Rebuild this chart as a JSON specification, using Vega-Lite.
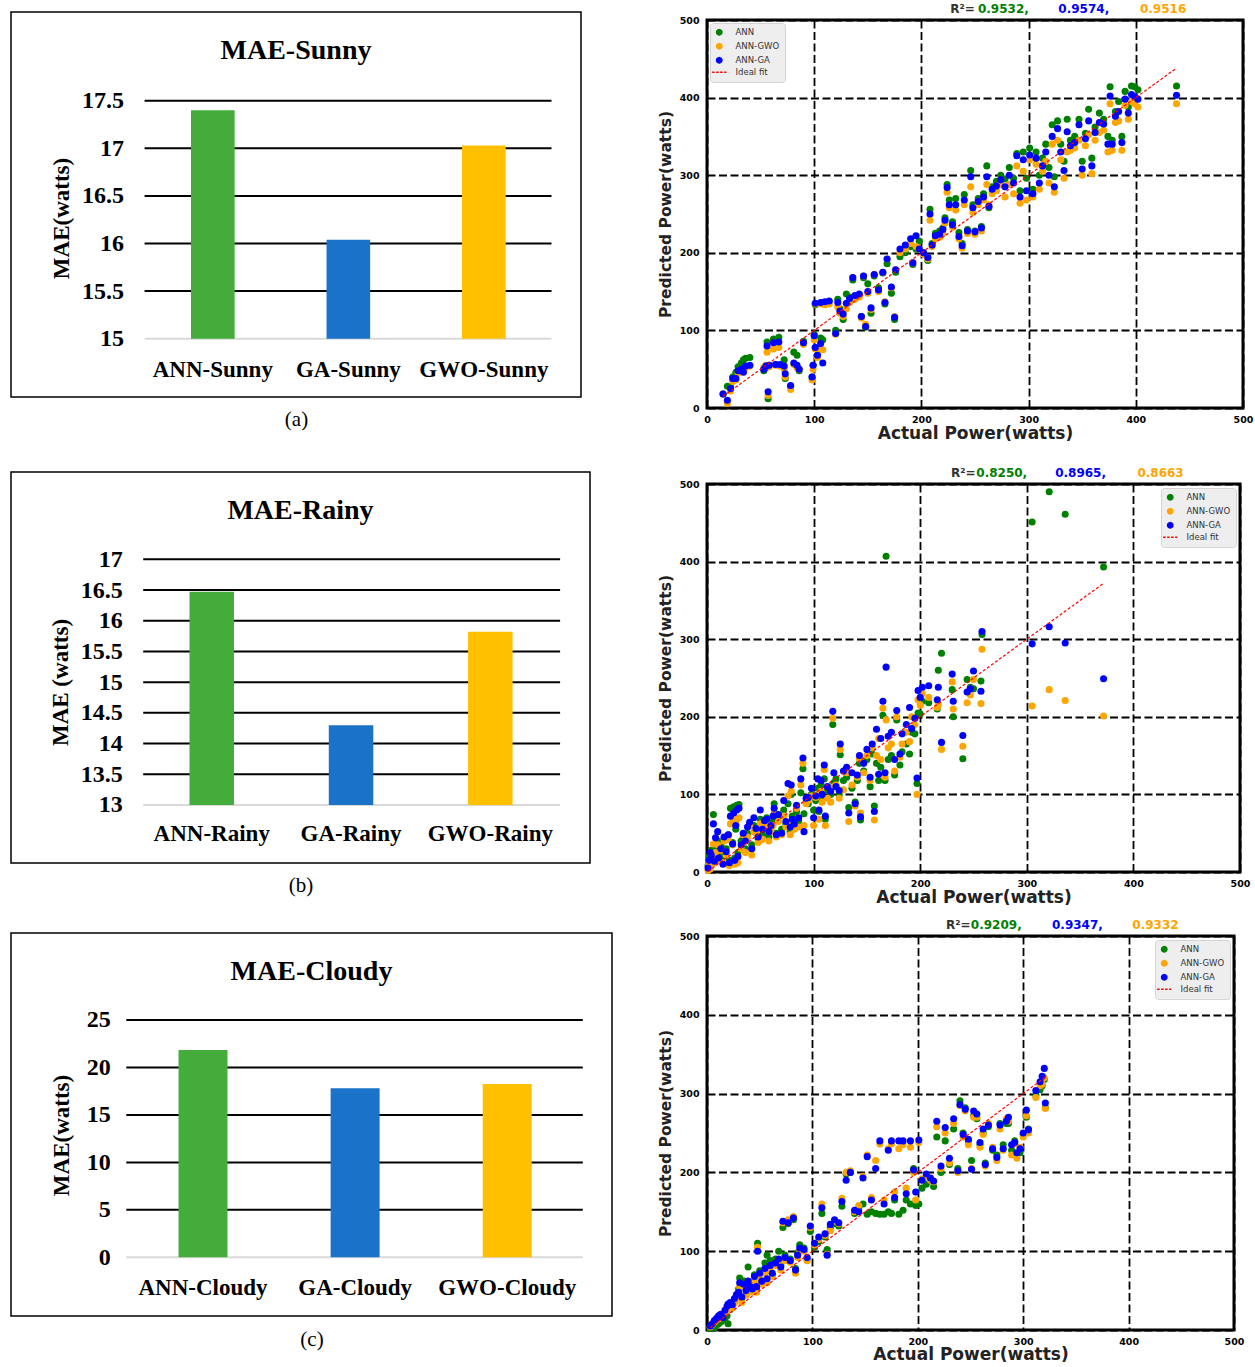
{
"$schema": "https://vega.github.io/schema/vega-lite/v6.json",
"background": "white",
"padding": {"left": 10, "top": 0, "right": 0, "bottom": 0},
"config": {"view": {"stroke": null}},
"datasets": {
"sunny": [
{"a":15,"n":18,"w":18,"g":18},{"a":19,"n":28,"w":6,"g":10},{"a":22,"n":27,"w":22,"g":25},{"a":24,"n":40,"w":34,"g":38},{"a":27,"n":46,"w":36,"g":38},{"a":29,"n":53,"w":45,"g":48},{"a":32,"n":58,"w":48,"g":50},{"a":34,"n":62,"w":50,"g":46},{"a":36,"n":64,"w":52,"g":54},{"a":40,"n":65,"w":54,"g":55},
{"a":53,"n":48,"w":52,"g":50},{"a":55,"n":52,"w":55,"g":54},{"a":56,"n":85,"w":72,"g":80},{"a":57,"n":12,"w":16,"g":21},{"a":58,"n":55,"w":53,"g":55},{"a":62,"n":89,"w":76,"g":84},{"a":64,"n":56,"w":55,"g":56},{"a":67,"n":91,"w":78,"g":85},{"a":68,"n":55,"w":54,"g":56},{"a":72,"n":62,"w":50,"g":54},
{"a":73,"n":38,"w":40,"g":44},{"a":78,"n":28,"w":24,"g":29},{"a":81,"n":72,"w":56,"g":58},{"a":84,"n":68,"w":52,"g":55},{"a":86,"n":48,"w":50,"g":50},{"a":90,"n":86,"w":82,"g":84},{"a":98,"n":40,"w":36,"g":40},{"a":99,"n":55,"w":50,"g":55},{"a":100,"n":95,"w":88,"g":93},{"a":101,"n":133,"w":134,"g":135},
{"a":101,"n":78,"w":76,"g":78},{"a":103,"n":68,"w":65,"g":68},{"a":106,"n":90,"w":76,"g":83},{"a":106,"n":135,"w":134,"g":136},{"a":108,"n":88,"w":75,"g":58},{"a":110,"n":136,"w":133,"g":137},{"a":114,"n":137,"w":134,"g":138},{"a":120,"n":100,"w":95,"g":96},{"a":122,"n":140,"w":130,"g":136},{"a":124,"n":128,"w":122,"g":125},
{"a":127,"n":114,"w":118,"g":121},{"a":130,"n":147,"w":128,"g":135},{"a":133,"n":143,"w":136,"g":141},{"a":136,"n":165,"w":168,"g":168},{"a":138,"n":142,"w":140,"g":145},{"a":142,"n":146,"w":143,"g":147},{"a":144,"n":118,"w":116,"g":118},{"a":146,"n":168,"w":170,"g":170},{"a":148,"n":104,"w":108,"g":105},{"a":150,"n":160,"w":148,"g":150},
{"a":153,"n":122,"w":127,"g":129},{"a":156,"n":170,"w":172,"g":172},{"a":160,"n":155,"w":150,"g":152},{"a":164,"n":174,"w":175,"g":175},{"a":166,"n":134,"w":137,"g":136},{"a":168,"n":186,"w":192,"g":192},{"a":172,"n":148,"w":155,"g":156},{"a":175,"n":114,"w":118,"g":117},{"a":176,"n":175,"w":178,"g":178},{"a":180,"n":195,"w":200,"g":205},
{"a":185,"n":200,"w":205,"g":210},{"a":190,"n":208,"w":212,"g":218},{"a":192,"n":185,"w":187,"g":187},{"a":195,"n":205,"w":208,"g":222},{"a":198,"n":215,"w":205,"g":205},{"a":202,"n":200,"w":198,"g":200},{"a":206,"n":190,"w":192,"g":194},{"a":208,"n":256,"w":242,"g":250},{"a":210,"n":212,"w":208,"g":210},{"a":213,"n":225,"w":218,"g":222},
{"a":217,"n":228,"w":220,"g":224},{"a":220,"n":232,"w":225,"g":230},{"a":222,"n":245,"w":238,"g":242},{"a":224,"n":288,"w":278,"g":284},{"a":226,"n":268,"w":258,"g":262},{"a":229,"n":240,"w":233,"g":236},{"a":232,"n":270,"w":255,"g":262},{"a":235,"n":226,"w":218,"g":221},{"a":238,"n":212,"w":206,"g":209},{"a":240,"n":275,"w":262,"g":268},
{"a":243,"n":230,"w":225,"g":228},{"a":246,"n":306,"w":285,"g":298},{"a":248,"n":262,"w":252,"g":258},{"a":250,"n":228,"w":224,"g":227},{"a":253,"n":270,"w":262,"g":266},{"a":256,"n":234,"w":228,"g":232},{"a":258,"n":276,"w":268,"g":272},{"a":261,"n":312,"w":288,"g":298},{"a":263,"n":258,"w":262,"g":260},{"a":266,"n":285,"w":276,"g":282},
{"a":270,"n":292,"w":280,"g":286},{"a":274,"n":300,"w":288,"g":294},{"a":278,"n":295,"w":272,"g":285},{"a":282,"n":310,"w":288,"g":300},{"a":286,"n":296,"w":276,"g":290},{"a":289,"n":328,"w":312,"g":325},{"a":292,"n":280,"w":264,"g":272},{"a":295,"n":330,"w":305,"g":320},{"a":298,"n":296,"w":268,"g":280},{"a":301,"n":335,"w":320,"g":326},
{"a":304,"n":282,"w":272,"g":276},{"a":307,"n":330,"w":314,"g":322},{"a":310,"n":300,"w":282,"g":290},{"a":313,"n":322,"w":305,"g":312},{"a":316,"n":340,"w":318,"g":330},{"a":319,"n":310,"w":290,"g":300},{"a":322,"n":365,"w":340,"g":350},{"a":324,"n":298,"w":278,"g":285},{"a":327,"n":370,"w":345,"g":360},{"a":330,"n":340,"w":320,"g":330},
{"a":333,"n":318,"w":296,"g":306},{"a":336,"n":372,"w":330,"g":356},{"a":339,"n":345,"w":332,"g":338},{"a":343,"n":350,"w":335,"g":342},{"a":347,"n":372,"w":345,"g":365},{"a":350,"n":318,"w":300,"g":308},{"a":353,"n":354,"w":338,"g":347},{"a":356,"n":385,"w":352,"g":370},{"a":359,"n":322,"w":302,"g":312},{"a":362,"n":362,"w":345,"g":355},
{"a":366,"n":380,"w":355,"g":368},{"a":370,"n":372,"w":358,"g":366},{"a":374,"n":350,"w":330,"g":340},{"a":376,"n":414,"w":392,"g":402},{"a":378,"n":345,"w":332,"g":340},{"a":381,"n":382,"w":368,"g":376},{"a":384,"n":395,"w":370,"g":382},{"a":387,"n":350,"w":332,"g":342},{"a":390,"n":408,"w":390,"g":398},{"a":393,"n":388,"w":372,"g":380},
{"a":396,"n":415,"w":395,"g":404},{"a":399,"n":414,"w":392,"g":401},{"a":402,"n":410,"w":388,"g":398},{"a":438,"n":415,"w":392,"g":403}
],
"rainy": [
{"a":1,"n":8,"w":2,"g":5},{"a":2,"n":20,"w":10,"g":15},{"a":3,"n":12,"w":4,"g":25},{"a":4,"n":28,"w":18,"g":22},{"a":6,"n":74,"w":36,"g":62},{"a":7,"n":18,"w":12,"g":14},{"a":8,"n":30,"w":25,"g":44},{"a":10,"n":40,"w":35,"g":52},{"a":11,"n":22,"w":15,"g":18},{"a":13,"n":35,"w":28,"g":30},
{"a":15,"n":20,"w":12,"g":10},{"a":16,"n":42,"w":40,"g":45},{"a":18,"n":30,"w":22,"g":26},{"a":20,"n":48,"w":42,"g":48},{"a":21,"n":15,"w":8,"g":12},{"a":22,"n":82,"w":62,"g":72},{"a":24,"n":38,"w":35,"g":36},{"a":25,"n":84,"w":66,"g":76},{"a":26,"n":18,"w":10,"g":15},{"a":27,"n":55,"w":62,"g":60},
{"a":28,"n":86,"w":68,"g":80},{"a":29,"n":25,"w":12,"g":20},{"a":30,"n":87,"w":70,"g":82},{"a":32,"n":40,"w":30,"g":35},{"a":34,"n":45,"w":48,"g":50},{"a":36,"n":30,"w":25,"g":40},{"a":38,"n":50,"w":45,"g":58},{"a":40,"n":62,"w":60,"g":64},{"a":42,"n":35,"w":22,"g":30},{"a":44,"n":60,"w":52,"g":70},
{"a":46,"n":55,"w":50,"g":56},{"a":48,"n":42,"w":38,"g":45},{"a":50,"n":68,"w":62,"g":80},{"a":52,"n":48,"w":42,"g":55},{"a":54,"n":62,"w":58,"g":66},{"a":56,"n":70,"w":62,"g":68},{"a":58,"n":45,"w":40,"g":52},{"a":60,"n":56,"w":52,"g":60},{"a":62,"n":65,"w":60,"g":72},{"a":63,"n":88,"w":76,"g":82},
{"a":65,"n":50,"w":45,"g":48},{"a":67,"n":72,"w":65,"g":74},{"a":70,"n":55,"w":48,"g":50},{"a":72,"n":80,"w":72,"g":92},{"a":74,"n":62,"w":58,"g":65},{"a":76,"n":88,"w":98,"g":114},{"a":78,"n":52,"w":48,"g":58},{"a":79,"n":100,"w":104,"g":112},{"a":80,"n":72,"w":64,"g":68},{"a":82,"n":60,"w":55,"g":62},
{"a":84,"n":78,"w":82,"g":86},{"a":86,"n":66,"w":58,"g":70},{"a":88,"n":102,"w":112,"g":120},{"a":90,"n":133,"w":140,"g":147},{"a":91,"n":75,"w":60,"g":52},{"a":93,"n":90,"w":88,"g":95},{"a":95,"n":88,"w":92,"g":96},{"a":98,"n":100,"w":98,"g":108},{"a":100,"n":80,"w":60,"g":70},{"a":102,"n":92,"w":96,"g":98},
{"a":104,"n":108,"w":100,"g":120},{"a":105,"n":78,"w":68,"g":80},{"a":107,"n":112,"w":104,"g":118},{"a":108,"n":95,"w":90,"g":100},{"a":110,"n":120,"w":132,"g":138},{"a":111,"n":68,"w":60,"g":72},{"a":113,"n":105,"w":95,"g":110},{"a":116,"n":100,"w":90,"g":104},{"a":118,"n":190,"w":198,"g":207},{"a":119,"n":115,"w":110,"g":128},
{"a":121,"n":120,"w":112,"g":110},{"a":124,"n":100,"w":95,"g":105},{"a":125,"n":151,"w":158,"g":165},{"a":128,"n":118,"w":106,"g":130},{"a":131,"n":122,"w":128,"g":135},{"a":133,"n":83,"w":65,"g":76},{"a":136,"n":108,"w":112,"g":128},{"a":139,"n":90,"w":85,"g":88},{"a":141,"n":118,"w":122,"g":125},{"a":143,"n":140,"w":146,"g":150},
{"a":144,"n":67,"w":76,"g":71},{"a":147,"n":130,"w":128,"g":140},{"a":150,"n":145,"w":150,"g":158},{"a":153,"n":110,"w":118,"g":122},{"a":155,"n":152,"w":160,"g":165},{"a":157,"n":85,"w":67,"g":78},{"a":159,"n":140,"w":150,"g":184},{"a":161,"n":118,"w":172,"g":126},{"a":163,"n":135,"w":145,"g":172},{"a":165,"n":202,"w":211,"g":220},
{"a":167,"n":118,"w":122,"g":128},{"a":168,"n":407,"w":196,"g":264},{"a":170,"n":145,"w":160,"g":175},{"a":173,"n":150,"w":165,"g":180},{"a":176,"n":125,"w":130,"g":145},{"a":178,"n":196,"w":200,"g":208},{"a":181,"n":138,"w":148,"g":152},{"a":183,"n":155,"w":165,"g":178},{"a":187,"n":165,"w":180,"g":190},{"a":190,"n":152,"w":168,"g":212},
{"a":192,"n":180,"w":200,"g":185},{"a":195,"n":178,"w":190,"g":198},{"a":197,"n":114,"w":100,"g":121},{"a":198,"n":205,"w":222,"g":234},{"a":200,"n":204,"w":215,"g":225},{"a":202,"n":220,"w":230,"g":238},{"a":208,"n":218,"w":225,"g":240},{"a":216,"n":210,"w":212,"g":222},{"a":217,"n":260,"w":216,"g":238},{"a":220,"n":282,"w":158,"g":167},
{"a":230,"n":235,"w":245,"g":255},{"a":231,"n":200,"w":210,"g":220},{"a":240,"n":146,"w":162,"g":176},{"a":244,"n":248,"w":218,"g":232},{"a":247,"n":238,"w":228,"g":236},{"a":250,"n":236,"w":248,"g":259},{"a":257,"n":246,"w":217,"g":233},{"a":258,"n":306,"w":287,"g":310},{"a":305,"n":451,"w":214,"g":294},{"a":321,"n":490,"w":235,"g":316},
{"a":336,"n":461,"w":221,"g":295},{"a":372,"n":393,"w":201,"g":249}
],
"cloudy": [
{"a":3,"n":2,"w":4,"g":5},{"a":5,"n":4,"w":7,"g":8},{"a":7,"n":3,"w":10,"g":12},{"a":9,"n":6,"w":13,"g":15},{"a":11,"n":8,"w":14,"g":18},{"a":13,"n":10,"w":17,"g":20},{"a":15,"n":12,"w":18,"g":16},{"a":17,"n":14,"w":22,"g":25},{"a":19,"n":18,"w":24,"g":30},{"a":20,"n":8,"w":26,"g":33},
{"a":22,"n":26,"w":30,"g":35},{"a":24,"n":30,"w":28,"g":32},{"a":26,"n":36,"w":34,"g":40},{"a":28,"n":44,"w":40,"g":45},{"a":30,"n":52,"w":42,"g":48},{"a":31,"n":66,"w":55,"g":60},{"a":33,"n":40,"w":35,"g":42},{"a":35,"n":62,"w":55,"g":58},{"a":37,"n":45,"w":44,"g":50},{"a":39,"n":80,"w":58,"g":62},
{"a":41,"n":55,"w":50,"g":55},{"a":43,"n":58,"w":48,"g":52},{"a":45,"n":70,"w":62,"g":68},{"a":47,"n":52,"w":48,"g":55},{"a":48,"n":110,"w":105,"g":100},{"a":50,"n":75,"w":65,"g":72},{"a":52,"n":60,"w":58,"g":62},{"a":55,"n":85,"w":72,"g":78},{"a":57,"n":95,"w":60,"g":65},{"a":60,"n":88,"w":75,"g":82},
{"a":62,"n":70,"w":68,"g":72},{"a":65,"n":90,"w":82,"g":85},{"a":68,"n":100,"w":85,"g":90},{"a":70,"n":82,"w":76,"g":80},{"a":72,"n":130,"w":136,"g":138},{"a":74,"n":95,"w":88,"g":92},{"a":77,"n":135,"w":140,"g":136},{"a":79,"n":90,"w":86,"g":88},{"a":82,"n":140,"w":144,"g":142},{"a":84,"n":78,"w":72,"g":76},
{"a":86,"n":98,"w":92,"g":95},{"a":88,"n":108,"w":100,"g":104},{"a":92,"n":104,"w":100,"g":102},{"a":95,"n":90,"w":88,"g":92},{"a":98,"n":125,"w":130,"g":132},{"a":102,"n":105,"w":108,"g":110},{"a":106,"n":112,"w":115,"g":118},{"a":109,"n":148,"w":160,"g":155},{"a":112,"n":118,"w":120,"g":122},{"a":114,"n":102,"w":96,"g":95},
{"a":117,"n":130,"w":126,"g":134},{"a":121,"n":135,"w":138,"g":140},{"a":125,"n":132,"w":135,"g":136},{"a":128,"n":157,"w":167,"g":163},{"a":132,"n":198,"w":200,"g":190},{"a":136,"n":200,"w":202,"g":200},{"a":140,"n":148,"w":150,"g":152},{"a":144,"n":155,"w":158,"g":150},{"a":148,"n":160,"w":195,"g":193},{"a":152,"n":147,"w":222,"g":220},
{"a":156,"n":150,"w":168,"g":165},{"a":160,"n":148,"w":215,"g":205},{"a":164,"n":147,"w":236,"g":240},{"a":168,"n":147,"w":165,"g":160},{"a":172,"n":150,"w":230,"g":228},{"a":175,"n":148,"w":236,"g":240},{"a":178,"n":165,"w":175,"g":168},{"a":182,"n":147,"w":230,"g":240},{"a":186,"n":152,"w":235,"g":240},{"a":189,"n":165,"w":180,"g":173},
{"a":193,"n":160,"w":232,"g":240},{"a":196,"n":205,"w":200,"g":203},{"a":198,"n":158,"w":165,"g":175},{"a":201,"n":160,"w":238,"g":241},{"a":204,"n":180,"w":192,"g":190},{"a":208,"n":185,"w":195,"g":198},{"a":212,"n":190,"w":190,"g":193},{"a":215,"n":182,"w":188,"g":189},{"a":218,"n":245,"w":258,"g":265},{"a":222,"n":200,"w":205,"g":208},
{"a":226,"n":240,"w":250,"g":257},{"a":230,"n":210,"w":212,"g":218},{"a":234,"n":255,"w":262,"g":268},{"a":238,"n":205,"w":200,"g":202},{"a":240,"n":291,"w":285,"g":286},{"a":243,"n":250,"w":245,"g":248},{"a":245,"n":282,"w":278,"g":280},{"a":248,"n":240,"w":235,"g":242},{"a":251,"n":215,"w":205,"g":204},{"a":253,"n":272,"w":270,"g":278},
{"a":256,"n":268,"w":270,"g":274},{"a":259,"n":235,"w":232,"g":238},{"a":262,"n":250,"w":248,"g":255},{"a":264,"n":212,"w":208,"g":210},{"a":267,"n":258,"w":262,"g":260},{"a":271,"n":228,"w":232,"g":230},{"a":275,"n":222,"w":215,"g":219},{"a":278,"n":262,"w":255,"g":260},{"a":281,"n":235,"w":228,"g":230},{"a":284,"n":262,"w":268,"g":265},
{"a":286,"n":262,"w":265,"g":270},{"a":289,"n":228,"w":222,"g":235},{"a":292,"n":240,"w":236,"g":238},{"a":294,"n":222,"w":218,"g":225},{"a":297,"n":225,"w":232,"g":230},{"a":300,"n":248,"w":245,"g":250},{"a":303,"n":270,"w":272,"g":279},{"a":305,"n":255,"w":250,"g":254},{"a":312,"n":298,"w":295,"g":304},{"a":316,"n":305,"w":310,"g":315},
{"a":318,"n":310,"w":312,"g":322},{"a":320,"n":318,"w":320,"g":332},{"a":321,"n":282,"w":281,"g":288}
]
},
"spacing": 43,
"resolve": {"scale": {"color": "independent"}, "legend": {"color": "independent"}},
"hconcat": [
{
"spacing": 75,
"bounds": "flush",
"resolve": {"scale": {"color": "independent"}, "legend": {"color": "independent"}},
"vconcat": [
{
"width": 570, "height": 385,
"view": {"stroke": "black", "strokeWidth": 1.5},
"title": {"text": "MAE-Sunny", "offset": -75, "baseline": "alphabetic", "font": "Liberation Serif", "fontSize": 28, "fontWeight": "bold", "color": "black", "anchor": "middle"},
"resolve": {"scale": {"x": "independent"}, "axis": {"y": "independent"}},
"layer": [
{
"data": {"values": [{"v": 15}, {"v": 15.5}, {"v": 16}, {"v": 16.5}, {"v": 17}, {"v": 17.5}]},
"mark": {"type": "rule", "strokeWidth": 2},
"encoding": {
"x": {"datum": 0, "type": "quantitative", "scale": {"domain": [-0.3283, 1.0725]}, "axis": null},
"x2": {"datum": 1},
"y": {"field": "v", "type": "quantitative", "scale": {"domain": [14.3876, 18.4317], "nice": false, "zero": false},
 "axis": {"values": [15, 15.5, 16, 16.5, 17, 17.5], "format": ".3~g", "grid": false, "domain": false, "ticks": false, "tickSize": 0, "offset": -133.6, "labelPadding": 21, "labelFont": "Liberation Serif", "labelFontSize": 24, "labelFontWeight": "bold", "labelColor": "black", "labelOverlap": false,
 "title": "MAE(watts)", "titleFont": "Liberation Serif", "titleFontSize": 23, "titleFontWeight": "bold", "titleColor": "black", "titleX": -83, "titleY": 206, "titleAngle": -90, "titleAlign": "center", "titleBaseline": "middle"}},
"color": {"condition": {"test": "datum.v == 15", "value": "#d9d9d9"}, "value": "black"}
}
},
{
"data": {"values": [{"model": "ANN-Sunny", "mae": 17.40}, {"model": "GA-Sunny", "mae": 16.04}, {"model": "GWO-Sunny", "mae": 17.03}]},
"mark": {"type": "bar"},
"encoding": {
"x": {"field": "model", "type": "nominal", "sort": null, "scale": {"paddingInner": 0.678, "paddingOuter": 0.942, "align": 0.705},
 "axis": {"orient": "bottom", "offset": -58.3, "domain": false, "ticks": false, "tickSize": 0, "grid": false, "labelAngle": 0, "labelPadding": 20, "labelFont": "Liberation Serif", "labelFontSize": 23, "labelFontWeight": "bold", "labelColor": "black",
 "title": "(a)", "titleFont": "Liberation Serif", "titleFontSize": 21, "titleFontWeight": "normal", "titleColor": "black", "titleY": 81, "titleBaseline": "middle"}},
"y": {"field": "mae", "type": "quantitative", "axis": null},
"y2": {"datum": 15},
"color": {"field": "model", "type": "nominal", "scale": {"domain": ["ANN-Sunny", "GA-Sunny", "GWO-Sunny"], "range": ["#43ac3a", "#1a73c9", "#ffc000"]}, "legend": null}
}
}
]
},
{
"spacing": 70,
"bounds": "flush",
"resolve": {"scale": {"color": "independent"}, "legend": {"color": "independent"}},
"vconcat": [
{
"width": 579, "height": 391,
"view": {"stroke": "black", "strokeWidth": 1.5},
"title": {"text": "MAE-Rainy", "offset": -75, "baseline": "alphabetic", "font": "Liberation Serif", "fontSize": 28, "fontWeight": "bold", "color": "black", "anchor": "middle"},
"resolve": {"scale": {"x": "independent"}, "axis": {"y": "independent"}},
"layer": [
{
"data": {"values": [{"v": 13}, {"v": 13.5}, {"v": 14}, {"v": 14.5}, {"v": 15}, {"v": 15.5}, {"v": 16}, {"v": 16.5}, {"v": 17}]},
"mark": {"type": "rule", "strokeWidth": 2},
"encoding": {
"x": {"datum": 0, "type": "quantitative", "scale": {"domain": [-0.3171, 1.0717]}, "axis": null},
"x2": {"datum": 1},
"y": {"field": "v", "type": "quantitative", "scale": {"domain": [12.0557, 18.4214], "nice": false, "zero": false},
 "axis": {"values": [13, 13.5, 14, 14.5, 15, 15.5, 16, 16.5, 17], "format": ".3~g", "grid": false, "domain": false, "ticks": false, "tickSize": 0, "offset": -132.2, "labelPadding": 21, "labelFont": "Liberation Serif", "labelFontSize": 24, "labelFontWeight": "bold", "labelColor": "black", "labelOverlap": false,
 "title": "MAE (watts)", "titleFont": "Liberation Serif", "titleFontSize": 23, "titleFontWeight": "bold", "titleColor": "black", "titleX": -82.8, "titleY": 210, "titleAngle": -90, "titleAlign": "center", "titleBaseline": "middle"}},
"color": {"condition": {"test": "datum.v == 13", "value": "#d9d9d9"}, "value": "black"}
}
},
{
"data": {"values": [{"model": "ANN-Rainy", "mae": 16.47}, {"model": "GA-Rainy", "mae": 14.30}, {"model": "GWO-Rainy", "mae": 15.82}]},
"mark": {"type": "bar"},
"encoding": {
"x": {"field": "model", "type": "nominal", "sort": null, "scale": {"paddingInner": 0.6805, "paddingOuter": 0.9185, "align": 0.6975},
 "axis": {"orient": "bottom", "offset": -58, "domain": false, "ticks": false, "tickSize": 0, "grid": false, "labelAngle": 0, "labelPadding": 17.4, "labelFont": "Liberation Serif", "labelFontSize": 23, "labelFontWeight": "bold", "labelColor": "black",
 "title": "(b)", "titleFont": "Liberation Serif", "titleFontSize": 21, "titleFontWeight": "normal", "titleColor": "black", "titleY": 80, "titleBaseline": "middle"}},
"y": {"field": "mae", "type": "quantitative", "axis": null},
"y2": {"datum": 13},
"color": {"field": "model", "type": "nominal", "scale": {"domain": ["ANN-Rainy", "GA-Rainy", "GWO-Rainy"], "range": ["#43ac3a", "#1a73c9", "#ffc000"]}, "legend": null}
}
}
]
},
{
"width": 601, "height": 383,
"view": {"stroke": "black", "strokeWidth": 1.5},
"title": {"text": "MAE-Cloudy", "offset": -75, "baseline": "alphabetic", "font": "Liberation Serif", "fontSize": 28, "fontWeight": "bold", "color": "black", "anchor": "middle"},
"resolve": {"scale": {"x": "independent"}, "axis": {"y": "independent"}},
"layer": [
{
"data": {"values": [{"v": 0}, {"v": 5}, {"v": 10}, {"v": 15}, {"v": 20}, {"v": 25}]},
"mark": {"type": "rule", "strokeWidth": 2},
"encoding": {
"x": {"datum": 0, "type": "quantitative", "scale": {"domain": [-0.2526, 1.0640]}, "axis": null},
"x2": {"datum": 1},
"y": {"field": "v", "type": "quantitative", "scale": {"domain": [-6.183, 34.165], "nice": false, "zero": false},
 "axis": {"values": [0, 5, 10, 15, 20, 25], "format": ".3~g", "grid": false, "domain": false, "ticks": false, "tickSize": 0, "offset": -115.3, "labelPadding": 16, "labelFont": "Liberation Serif", "labelFontSize": 24, "labelFontWeight": "bold", "labelColor": "black", "labelOverlap": false,
 "title": "MAE(watts)", "titleFont": "Liberation Serif", "titleFontSize": 23, "titleFontWeight": "bold", "titleColor": "black", "titleX": -65.3, "titleY": 202, "titleAngle": -90, "titleAlign": "center", "titleBaseline": "middle"}},
"color": {"condition": {"test": "datum.v == 0", "value": "#d9d9d9"}, "value": "black"}
}
},
{
"data": {"values": [{"model": "ANN-Cloudy", "mae": 21.84}, {"model": "GA-Cloudy", "mae": 17.80}, {"model": "GWO-Cloudy", "mae": 18.26}]},
"mark": {"type": "bar"},
"encoding": {
"x": {"field": "model", "type": "nominal", "sort": null, "scale": {"paddingInner": 0.678, "paddingOuter": 0.8147, "align": 0.676},
 "axis": {"orient": "bottom", "offset": -58.7, "domain": false, "ticks": false, "tickSize": 0, "grid": false, "labelAngle": 0, "labelPadding": 19, "labelFont": "Liberation Serif", "labelFontSize": 23, "labelFontWeight": "bold", "labelColor": "black",
 "title": "(c)", "titleFont": "Liberation Serif", "titleFontSize": 21, "titleFontWeight": "normal", "titleColor": "black", "titleY": 81.7, "titleBaseline": "middle"}},
"y": {"field": "mae", "type": "quantitative", "axis": null},
"y2": {"datum": 0},
"color": {"field": "model", "type": "nominal", "scale": {"domain": ["ANN-Cloudy", "GA-Cloudy", "GWO-Cloudy"], "range": ["#43ac3a", "#1a73c9", "#ffc000"]}, "legend": null}
}
}
]
}
]
}
]
},
{
"spacing": 21,
"resolve": {"scale": {"color": "independent"}, "legend": {"color": "independent"}},
"vconcat": [
{
"spacing": 7,
"bounds": "flush",
"resolve": {"scale": {"color": "independent"}, "legend": {"color": "independent"}},
"vconcat": [
{"width": 1, "height": 1, "data": {"values": []}, "mark": "point"},
{
"width": 536, "height": 388,
"view": {"stroke": "black", "strokeWidth": 3},
"data": {"name": "sunny"},
"resolve": {"axis": {"x": "independent", "y": "independent"}},
"layer": [
{"mark": {"type": "point", "filled": true, "size": 50, "opacity": 1},
 "encoding": {
 "x": {"field": "a", "type": "quantitative", "scale": {"domain": [0, 500], "nice": false, "zero": false},
  "axis": {"orient": "bottom", "values": [0, 100, 200, 300, 400, 500], "grid": true, "gridColor": "black", "gridDash": [8, 3.5], "gridWidth": 1.8, "gridOpacity": 1, "domain": false, "ticks": false, "labelFont": "DejaVu Sans", "labelFontWeight": "bold", "labelFontSize": 9.5, "labelColor": "black", "labelPadding": 6, "labelFlush": false, "labelOverlap": false,
  "title": "Actual Power(watts)", "titleFont": "DejaVu Sans", "titleFontSize": 17, "titleFontWeight": "bold", "titleColor": "#222222", "titlePadding": 2}},
 "y": {"field": "n", "type": "quantitative", "scale": {"domain": [0, 500], "nice": false, "zero": false},
  "axis": {"values": [0, 100, 200, 300, 400, 500], "grid": true, "gridColor": "black", "gridDash": [8, 3.5], "gridWidth": 1.8, "gridOpacity": 1, "domain": false, "ticks": false, "labelFont": "DejaVu Sans", "labelFontWeight": "bold", "labelFontSize": 9.5, "labelColor": "black", "labelPadding": 8, "labelFlush": false, "labelOverlap": false,
  "title": "Predicted Power(watts)", "titleFont": "DejaVu Sans", "titleFontSize": 15.5, "titleFontWeight": "bold", "titleColor": "#222222", "titlePadding": 6}},
 "color": {"datum": "ANN", "type": "nominal", "scale": {"domain": ["ANN", "ANN-GWO", "ANN-GA", "Ideal fit"], "range": ["#008000", "#ffa500", "#0000ff", "#ff0000"]},
  "legend": {"orient": "top-left", "offset": 3, "title": null, "fillColor": "#eeeeee", "strokeColor": "#d4d4d4", "cornerRadius": 3, "padding": 5, "labelFont": "DejaVu Sans", "labelFontSize": 8.5, "labelColor": "#333333", "rowPadding": 2, "symbolSize": 30, "labelOffset": 12,
   "encoding": {"symbols": {"shape": {"value": {"expr": "datum.value === 'Ideal fit' ? 'M-2.6,0H2.6' : 'circle'"}}, "stroke": {"value": {"expr": "datum.value === 'Ideal fit' ? '#ff0000' : 'transparent'"}}, "strokeDash": {"value": {"expr": "datum.value === 'Ideal fit' ? [2.5, 1.5] : [1, 0]"}}, "strokeWidth": {"value": 1.3}}}}}
 }},
{"mark": {"type": "point", "filled": true, "size": 50, "opacity": 1},
 "encoding": {"x": {"field": "a", "type": "quantitative", "axis": null}, "y": {"field": "w", "type": "quantitative", "axis": null}, "color": {"datum": "ANN-GWO", "type": "nominal"}}},
{"mark": {"type": "point", "filled": true, "size": 50, "opacity": 1},
 "encoding": {"x": {"field": "a", "type": "quantitative", "axis": null}, "y": {"field": "g", "type": "quantitative", "axis": null}, "color": {"datum": "ANN-GA", "type": "nominal"}}},
{"mark": {"type": "line", "strokeDash": [3, 2], "strokeWidth": 1.2},
 "encoding": {
 "x": {"field": "a", "type": "quantitative",
  "axis": {"orient": "top", "values": [238, 276, 351, 425], "labelExpr": "datum.value == 238 ? 'R²=' : datum.value == 276 ? '0.9532,' : datum.value == 351 ? '0.9574,' : '0.9516'", "grid": false, "domain": false, "ticks": false, "labelFont": "DejaVu Sans", "labelFontWeight": "bold", "labelFontSize": 12, "labelPadding": 5, "labelFlush": false, "labelOverlap": false, "title": null,
  "encoding": {"labels": {"fill": {"value": {"expr": "datum.value == 276 ? '#008000' : datum.value == 351 ? '#0000ff' : datum.value == 425 ? '#ffa500' : '#333333'"}}}}}},
 "y": {"field": "a", "type": "quantitative", "axis": null},
 "color": {"datum": "Ideal fit", "type": "nominal"}
 }}
]
}
]
},
{
"spacing": 64,
"bounds": "flush",
"resolve": {"scale": {"color": "independent"}, "legend": {"color": "independent"}},
"vconcat": [
{
"width": 533, "height": 388,
"view": {"stroke": "black", "strokeWidth": 3},
"data": {"name": "rainy"},
"resolve": {"axis": {"x": "independent", "y": "independent"}},
"layer": [
{"mark": {"type": "point", "filled": true, "size": 50, "opacity": 1},
 "encoding": {
 "x": {"field": "a", "type": "quantitative", "scale": {"domain": [0, 500], "nice": false, "zero": false},
  "axis": {"orient": "bottom", "values": [0, 100, 200, 300, 400, 500], "grid": true, "gridColor": "black", "gridDash": [8, 3.5], "gridWidth": 1.8, "gridOpacity": 1, "domain": false, "ticks": false, "labelFont": "DejaVu Sans", "labelFontWeight": "bold", "labelFontSize": 9.5, "labelColor": "black", "labelPadding": 6, "labelFlush": false, "labelOverlap": false,
  "title": "Actual Power(watts)", "titleFont": "DejaVu Sans", "titleFontSize": 17, "titleFontWeight": "bold", "titleColor": "#222222", "titlePadding": 2}},
 "y": {"field": "n", "type": "quantitative", "scale": {"domain": [0, 500], "nice": false, "zero": false},
  "axis": {"values": [0, 100, 200, 300, 400, 500], "grid": true, "gridColor": "black", "gridDash": [8, 3.5], "gridWidth": 1.8, "gridOpacity": 1, "domain": false, "ticks": false, "labelFont": "DejaVu Sans", "labelFontWeight": "bold", "labelFontSize": 9.5, "labelColor": "black", "labelPadding": 8, "labelFlush": false, "labelOverlap": false,
  "title": "Predicted Power(watts)", "titleFont": "DejaVu Sans", "titleFontSize": 15.5, "titleFontWeight": "bold", "titleColor": "#222222", "titlePadding": 6}},
 "color": {"datum": "ANN", "type": "nominal", "scale": {"domain": ["ANN", "ANN-GWO", "ANN-GA", "Ideal fit"], "range": ["#008000", "#ffa500", "#0000ff", "#ff0000"]},
  "legend": {"orient": "top-right", "offset": 4, "title": null, "fillColor": "#eeeeee", "strokeColor": "#d4d4d4", "cornerRadius": 3, "padding": 5, "labelFont": "DejaVu Sans", "labelFontSize": 8.5, "labelColor": "#333333", "rowPadding": 2, "symbolSize": 30, "labelOffset": 12,
   "encoding": {"symbols": {"shape": {"value": {"expr": "datum.value === 'Ideal fit' ? 'M-2.6,0H2.6' : 'circle'"}}, "stroke": {"value": {"expr": "datum.value === 'Ideal fit' ? '#ff0000' : 'transparent'"}}, "strokeDash": {"value": {"expr": "datum.value === 'Ideal fit' ? [2.5, 1.5] : [1, 0]"}}, "strokeWidth": {"value": 1.3}}}}}
 }},
{"mark": {"type": "point", "filled": true, "size": 50, "opacity": 1},
 "encoding": {"x": {"field": "a", "type": "quantitative", "axis": null}, "y": {"field": "w", "type": "quantitative", "axis": null}, "color": {"datum": "ANN-GWO", "type": "nominal"}}},
{"mark": {"type": "point", "filled": true, "size": 50, "opacity": 1},
 "encoding": {"x": {"field": "a", "type": "quantitative", "axis": null}, "y": {"field": "g", "type": "quantitative", "axis": null}, "color": {"datum": "ANN-GA", "type": "nominal"}}},
{"mark": {"type": "line", "strokeDash": [3, 2], "strokeWidth": 1.2},
 "encoding": {
 "x": {"field": "a", "type": "quantitative",
  "axis": {"orient": "top", "values": [240, 276, 350, 425], "labelExpr": "datum.value == 240 ? 'R²=' : datum.value == 276 ? '0.8250,' : datum.value == 350 ? '0.8965,' : '0.8663'", "grid": false, "domain": false, "ticks": false, "labelFont": "DejaVu Sans", "labelFontWeight": "bold", "labelFontSize": 12, "labelPadding": 5, "labelFlush": false, "labelOverlap": false, "title": null,
  "encoding": {"labels": {"fill": {"value": {"expr": "datum.value == 276 ? '#008000' : datum.value == 350 ? '#0000ff' : datum.value == 425 ? '#ffa500' : '#333333'"}}}}}},
 "y": {"field": "a", "type": "quantitative", "axis": null},
 "color": {"datum": "Ideal fit", "type": "nominal"}
 }}
]
},
{
"width": 527, "height": 394,
"view": {"stroke": "black", "strokeWidth": 3},
"data": {"name": "cloudy"},
"resolve": {"axis": {"x": "independent", "y": "independent"}},
"layer": [
{"mark": {"type": "point", "filled": true, "size": 50, "opacity": 1},
 "encoding": {
 "x": {"field": "a", "type": "quantitative", "scale": {"domain": [0, 500], "nice": false, "zero": false},
  "axis": {"orient": "bottom", "values": [0, 100, 200, 300, 400, 500], "grid": true, "gridColor": "black", "gridDash": [8, 3.5], "gridWidth": 1.8, "gridOpacity": 1, "domain": false, "ticks": false, "labelFont": "DejaVu Sans", "labelFontWeight": "bold", "labelFontSize": 9.5, "labelColor": "black", "labelPadding": 6, "labelFlush": false, "labelOverlap": false,
  "title": "Actual Power(watts)", "titleFont": "DejaVu Sans", "titleFontSize": 17, "titleFontWeight": "bold", "titleColor": "#222222", "titlePadding": 1}},
 "y": {"field": "n", "type": "quantitative", "scale": {"domain": [0, 500], "nice": false, "zero": false},
  "axis": {"values": [0, 100, 200, 300, 400, 500], "grid": true, "gridColor": "black", "gridDash": [8, 3.5], "gridWidth": 1.8, "gridOpacity": 1, "domain": false, "ticks": false, "labelFont": "DejaVu Sans", "labelFontWeight": "bold", "labelFontSize": 9.5, "labelColor": "black", "labelPadding": 8, "labelFlush": false, "labelOverlap": false,
  "title": "Predicted Power(watts)", "titleFont": "DejaVu Sans", "titleFontSize": 15.5, "titleFontWeight": "bold", "titleColor": "#222222", "titlePadding": 6}},
 "color": {"datum": "ANN", "type": "nominal", "scale": {"domain": ["ANN", "ANN-GWO", "ANN-GA", "Ideal fit"], "range": ["#008000", "#ffa500", "#0000ff", "#ff0000"]},
  "legend": {"orient": "top-right", "offset": 4, "title": null, "fillColor": "#eeeeee", "strokeColor": "#d4d4d4", "cornerRadius": 3, "padding": 5, "labelFont": "DejaVu Sans", "labelFontSize": 8.5, "labelColor": "#333333", "rowPadding": 2, "symbolSize": 30, "labelOffset": 12,
   "encoding": {"symbols": {"shape": {"value": {"expr": "datum.value === 'Ideal fit' ? 'M-2.6,0H2.6' : 'circle'"}}, "stroke": {"value": {"expr": "datum.value === 'Ideal fit' ? '#ff0000' : 'transparent'"}}, "strokeDash": {"value": {"expr": "datum.value === 'Ideal fit' ? [2.5, 1.5] : [1, 0]"}}, "strokeWidth": {"value": 1.3}}}}}
 }},
{"mark": {"type": "point", "filled": true, "size": 50, "opacity": 1},
 "encoding": {"x": {"field": "a", "type": "quantitative", "axis": null}, "y": {"field": "w", "type": "quantitative", "axis": null}, "color": {"datum": "ANN-GWO", "type": "nominal"}}},
{"mark": {"type": "point", "filled": true, "size": 50, "opacity": 1},
 "encoding": {"x": {"field": "a", "type": "quantitative", "axis": null}, "y": {"field": "g", "type": "quantitative", "axis": null}, "color": {"datum": "ANN-GA", "type": "nominal"}}},
{"mark": {"type": "line", "strokeDash": [3, 2], "strokeWidth": 1.2},
 "encoding": {
 "x": {"field": "a", "type": "quantitative",
  "axis": {"orient": "top", "values": [238, 274, 351, 425], "labelExpr": "datum.value == 238 ? 'R²=' : datum.value == 274 ? '0.9209,' : datum.value == 351 ? '0.9347,' : '0.9332'", "grid": false, "domain": false, "ticks": false, "labelFont": "DejaVu Sans", "labelFontWeight": "bold", "labelFontSize": 12, "labelPadding": 5, "labelFlush": false, "labelOverlap": false, "title": null,
  "encoding": {"labels": {"fill": {"value": {"expr": "datum.value == 274 ? '#008000' : datum.value == 351 ? '#0000ff' : datum.value == 425 ? '#ffa500' : '#333333'"}}}}}},
 "y": {"field": "a", "type": "quantitative", "axis": null},
 "color": {"datum": "Ideal fit", "type": "nominal"}
 }}
]
}
]
}
]
}
]
}
